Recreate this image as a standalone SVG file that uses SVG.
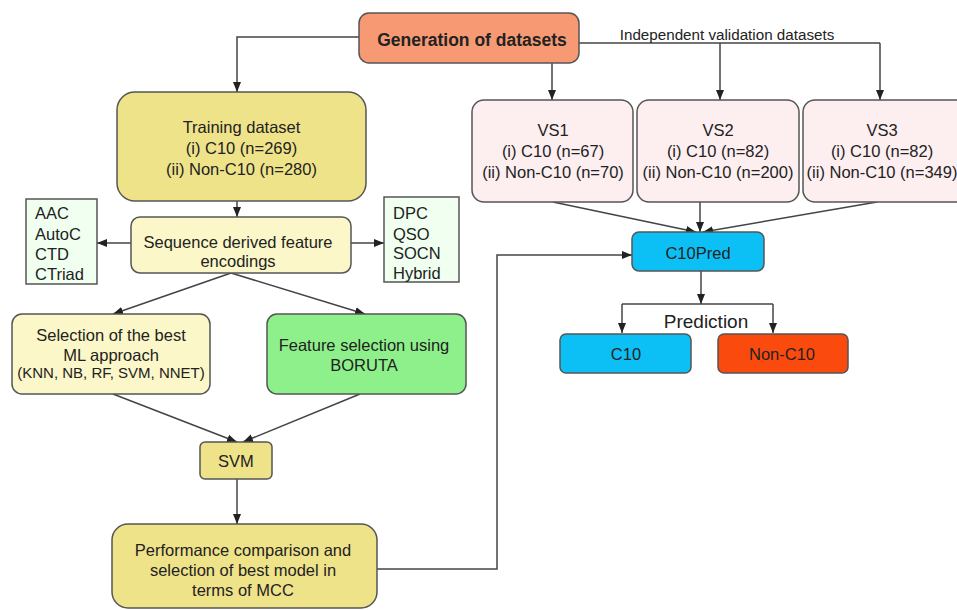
<svg xmlns="http://www.w3.org/2000/svg" width="957" height="610" viewBox="0 0 957 610">
<defs>
<marker id="ah" markerUnits="userSpaceOnUse" markerWidth="10" markerHeight="10" viewBox="0 0 10 10" refX="10" refY="5" orient="auto">
<path d="M0,1 L10,5 L0,9 Z" fill="#222"/>
</marker>
<style>
text{font-family:"Liberation Sans",Arial,sans-serif;font-size:16.5px;fill:#222;text-anchor:middle}
.box{stroke:#555;stroke-width:1.5}
.c{fill:none;stroke:#444;stroke-width:1.5}
.a{marker-end:url(#ah)}
.l{text-anchor:start}
</style>
</defs>
<rect width="957" height="610" fill="#fff"/>
<g id="connectors">
<polyline class="c a" points="359,37 237,37 237,92"/>
<polyline class="c" points="579,43 880,43"/>
<line class="c a" x1="552" y1="43" x2="552" y2="100"/>
<line class="c a" x1="720" y1="43" x2="720" y2="100"/>
<line class="c a" x1="880" y1="43" x2="880" y2="100"/>
<line class="c a" x1="237" y1="201" x2="237" y2="217"/>
<line class="c a" x1="131" y1="243" x2="97" y2="243"/>
<line class="c a" x1="351" y1="243" x2="384" y2="243"/>
<line class="c a" x1="231" y1="273" x2="113" y2="314"/>
<line class="c a" x1="231" y1="273" x2="365" y2="314"/>
<line class="c a" x1="113" y1="394" x2="237" y2="442"/>
<line class="c a" x1="360" y1="394" x2="243" y2="442"/>
<line class="c a" x1="237" y1="479" x2="237" y2="524"/>
<polyline class="c a" points="377,569 497,569 497,255 632,255"/>
<line class="c a" x1="553" y1="202" x2="696" y2="232"/>
<line class="c a" x1="700" y1="202" x2="700" y2="232"/>
<line class="c a" x1="877" y1="202" x2="703" y2="232"/>
<line class="c a" x1="701" y1="271" x2="701" y2="304"/>
<polyline class="c a" points="622,304 622,333"/>
<polyline class="c" points="622,304 773,304"/>
<line class="c a" x1="773" y1="304" x2="773" y2="333"/>
<text x="727" y="40" style="font-size:15.2px">Independent validation datasets</text>
<text x="706" y="328" style="font-size:19px">Prediction</text>
</g>
<g id="generation">
<rect class="box" x="359" y="13" width="220" height="50" rx="10" fill="#f79a74"/>
<text x="472" y="46" style="font-weight:bold;font-size:17.5px">Generation of datasets</text>
</g>
<g id="training">
<rect class="box" x="117" y="92" width="249" height="109" rx="18" fill="#efe38a"/>
<text x="241.5" y="133">Training dataset</text>
<text x="241.5" y="154">(i) C10 (n=269)</text>
<text x="241.5" y="175">(ii) Non-C10 (n=280)</text>
</g>
<g id="vs1">
<rect class="box" x="472" y="100" width="161" height="102" rx="12" fill="#fdeef0"/>
<text x="553" y="136">VS1</text>
<text x="553" y="157">(i) C10 (n=67)</text>
<text x="553" y="178">(ii) Non-C10 (n=70)</text>
</g>
<g id="vs2">
<rect class="box" x="637" y="100" width="162" height="102" rx="12" fill="#fdeef0"/>
<text x="718" y="136">VS2</text>
<text x="718" y="157">(i) C10 (n=82)</text>
<text x="718" y="178">(ii) Non-C10 (n=200)</text>
</g>
<g id="vs3">
<rect class="box" x="803" y="100" width="165" height="102" rx="12" fill="#fdeef0"/>
<text x="882" y="136">VS3</text>
<text x="882" y="157">(i) C10 (n=82)</text>
<text x="882" y="178">(ii) Non-C10 (n=349)</text>
</g>
<g id="sequence">
<rect class="box" x="131" y="217" width="220" height="56" rx="9" fill="#fbf7c8"/>
<text x="238" y="248">Sequence derived feature</text>
<text x="238" y="267">encodings</text>
</g>
<g id="left-features">
<rect class="box" x="26" y="199" width="71" height="85" fill="#f0fff0"/>
<text class="l" x="35" y="219">AAC</text>
<text class="l" x="35" y="240">AutoC</text>
<text class="l" x="35" y="260">CTD</text>
<text class="l" x="35" y="280">CTriad</text>
</g>
<g id="right-features">
<rect class="box" x="384" y="197" width="75" height="85" fill="#f0fff0"/>
<text class="l" x="393" y="219">DPC</text>
<text class="l" x="393" y="240">QSO</text>
<text class="l" x="393" y="259">SOCN</text>
<text class="l" x="393" y="279">Hybrid</text>
</g>
<g id="selection">
<rect class="box" x="12" y="314" width="198" height="80" rx="10" fill="#fbf7c8"/>
<text x="111" y="341">Selection of the best</text>
<text x="111" y="361">ML approach</text>
<text x="111" y="378" style="font-size:15px">(KNN, NB, RF, SVM, NNET)</text>
</g>
<g id="boruta">
<rect class="box" x="267" y="314" width="199" height="80" rx="10" fill="#8ef08a"/>
<text x="364" y="351">Feature selection using</text>
<text x="364" y="371">BORUTA</text>
</g>
<g id="svm">
<rect class="box" x="200" y="442" width="72" height="37" rx="5" fill="#efe38a"/>
<text x="236" y="467">SVM</text>
</g>
<g id="performance">
<rect class="box" x="112" y="524" width="265" height="84" rx="16" fill="#efe38a"/>
<text x="243" y="556">Performance comparison and</text>
<text x="243" y="576">selection of best model in</text>
<text x="243" y="596">terms of MCC</text>
</g>
<g id="c10pred">
<rect class="box" x="632" y="232" width="132" height="39" rx="7" fill="#0cc0f5"/>
<text x="698" y="259">C10Pred</text>
</g>
<g id="c10">
<rect class="box" x="560" y="334" width="131" height="39" rx="6" fill="#0cc0f5"/>
<text x="626" y="360">C10</text>
</g>
<g id="nonc10">
<rect class="box" x="718" y="334" width="130" height="39" rx="6" fill="#fb4a0e"/>
<text x="782" y="360">Non-C10</text>
</g>
</svg>
